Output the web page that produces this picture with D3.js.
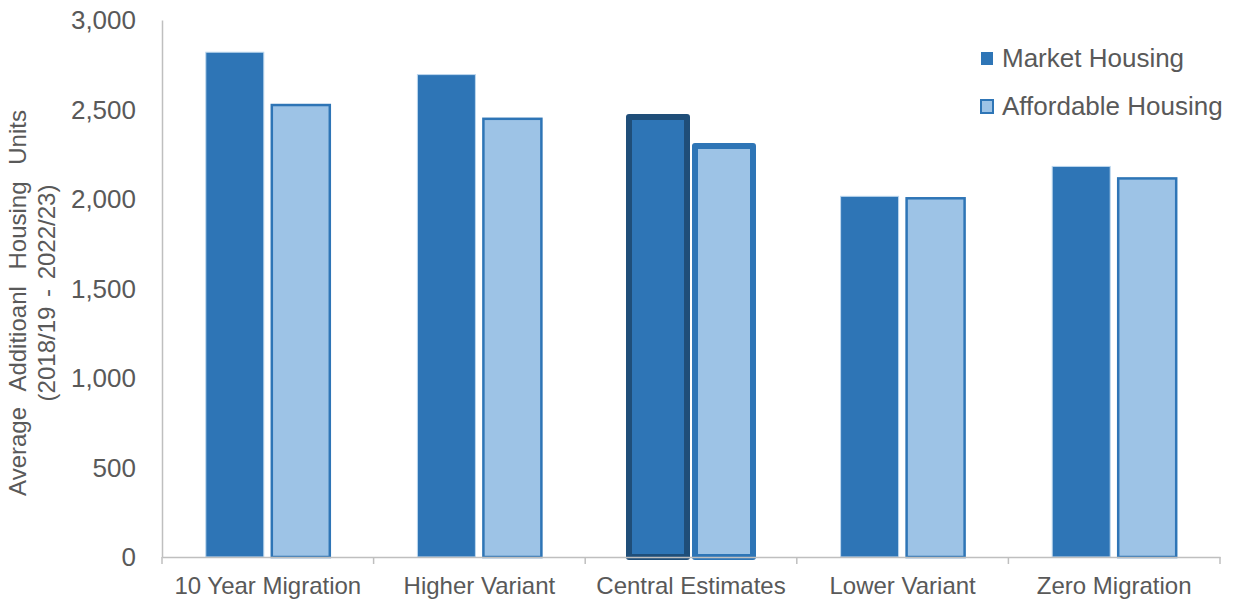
<!DOCTYPE html>
<html><head><meta charset="utf-8">
<script src="https://cdn.jsdelivr.net/npm/d3@7"></script>
<style>body{margin:0;background:#fff}svg{font-family:"Liberation Sans",Arial,sans-serif}</style>
</head><body><svg id="c" width="1233" height="604"></svg>
<script>
const categories = ["10 Year Migration","Higher Variant","Central Estimates","Lower Variant","Zero Migration"];
const seriesNames = ["Market Housing","Affordable Housing"];
const marketValues = [2820,2695,2458,2015,2182];
const affordableValues = [2525,2448,2296,2004,2115];
const yTicks = [0,500,1000,1500,2000,2500,3000];
const highlighted = "Central Estimates";

const svg = d3.select("#c");
const m = {l:162, r:1220, t:20, b:557};
const x = d3.scaleBand().domain(categories).range([m.l, m.r]);
const y = d3.scaleLinear().domain([0,3000]).range([m.b, m.t]);
const fills = ["#2E75B6","#9DC3E6"];
const data = categories.map((c,i)=>({c, v:[marketValues[i], affordableValues[i]]}));

const barW = 58, gap = 8;
const g = svg.append("g");
data.forEach(d=>{
  const cx = x(d.c) + x.bandwidth()/2;
  d.v.forEach((v,j)=>{
    const x0 = j===0 ? cx - gap/2 - barW : cx + gap/2;
    const hl = d.c === highlighted;
    let stroke, sw;
    if (j===0){ stroke = hl ? "#1F4E79" : "#BDD7EE"; sw = hl ? 6 : 1; }
    else { stroke = "#2E75B6"; sw = hl ? 6 : 2.5; }
    g.append("rect")
      .attr("x", x0).attr("y", y(v))
      .attr("width", barW).attr("height", y(0) - y(v))
      .attr("fill", fills[j]).attr("stroke", stroke).attr("stroke-width", sw)
      .attr("stroke-linejoin", hl ? "round" : "miter");
  });
});

// axes
const yAxis = svg.append("g").attr("transform",`translate(${m.l},0)`)
  .call(d3.axisLeft(y).tickValues(yTicks).tickFormat(d3.format(",")).tickSize(0).tickPadding(26));
yAxis.select(".domain").attr("stroke","#BFBFBF").attr("stroke-width",1.5);
yAxis.selectAll("text").attr("fill","#595959").style("font-size","26px").attr("dy","0.34em");

const xAxis = svg.append("g").attr("transform",`translate(0,${m.b})`)
  .call(d3.axisBottom(x).tickSize(0).tickPadding(20));
xAxis.select(".domain").attr("stroke","#BFBFBF").attr("stroke-width",1.5);
xAxis.selectAll("text").attr("fill","#595959").style("font-size","24px");
// category boundary ticks
const bounds = categories.map(c=>x(c)).concat([m.r]);
svg.append("g").selectAll("line").data(bounds).join("line")
  .attr("x1",d=>d).attr("x2",d=>d).attr("y1",m.b).attr("y2",m.b+7)
  .attr("stroke","#BFBFBF").attr("stroke-width",1.5);

// y title
svg.append("text").attr("transform","translate(26,303) rotate(-90)")
  .attr("text-anchor","middle").attr("fill","#595959").style("font-size","24px")
  .style("word-spacing","10px").text("Average  Additioanl  Housing  Units");
svg.append("text").attr("transform","translate(55,293) rotate(-90)")
  .attr("text-anchor","middle").attr("fill","#595959").style("font-size","24px")
  .style("word-spacing","3px").text("(2018/19  -  2022/23)");

// legend
const leg = svg.append("g");
seriesNames.forEach((s,i)=>{
  const base = 67 + i*48;
  leg.append("rect").attr("x",981).attr("y",base-15).attr("width",12).attr("height",13)
    .attr("fill",fills[i]).attr("stroke", i===1?"#2E75B6":"none").attr("stroke-width",2);
  leg.append("text").attr("x",1002).attr("y",base).attr("fill","#595959")
    .style("font-size","26px").text(s);
});
</script></body></html>
